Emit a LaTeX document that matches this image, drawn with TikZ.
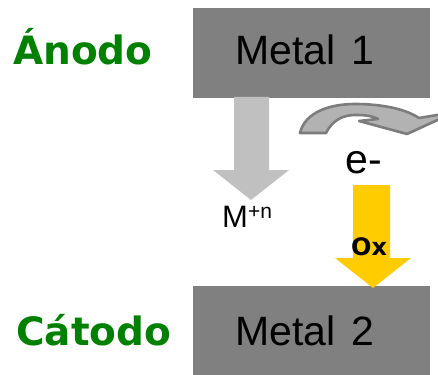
\documentclass[tikz,border=0pt]{standalone}
\usepackage{fontspec}
\newfontfamily\arialf{Liberation Sans}
\newfontfamily\verdf{DejaVu Sans}
\definecolor{boxgray}{HTML}{808080}
\definecolor{lightarrow}{HTML}{C0C0C0}
\definecolor{oxyellow}{HTML}{FFCC00}
\definecolor{electrode}{HTML}{008000}
\definecolor{curvefill}{HTML}{B2B2B2}
\definecolor{curveedge}{HTML}{7C7C7C}
\tikzset{
  metalbox/.style={fill=boxgray, draw=none, inner sep=0pt},
  metaltext/.style={anchor=base west, inner sep=0pt, font=\arialf\fontsize{41pt}{41pt}\selectfont, text=black},
  electrodetext/.style={anchor=base west, inner sep=0pt, font=\verdf\bfseries\fontsize{39pt}{39pt}\selectfont, text=electrode},
  plaintext/.style={anchor=base west, inner sep=0pt, text=black},
}
\begin{document}
\begin{tikzpicture}[x=1pt,y=-1pt]
\useasboundingbox (0,0) rectangle (438,374);
\begin{scope}
\clip (0,0) rectangle (438,374);
% metal boxes
\node[metalbox, minimum width=237pt, minimum height=90pt] (m1) at (311.5,53) {};
\node[metalbox, minimum width=237pt, minimum height=100pt] (m2) at (311.5,336) {};
% grey arrow (ion release)
\fill[lightarrow] (234,97) -- (269,97) -- (269,170) -- (289,170) -- (251,200) -- (213,170) -- (234,170) -- cycle;
% curved electron arrow
\filldraw[fill=curvefill, draw=curveedge, line width=2.6pt, line join=round]
  (300,133) .. controls (305,112) and (330,104) .. (355,104)
  .. controls (385,104) and (407,110) .. (419,118)
  -- (455,112) -- (407,134) -- (359,121) -- (378,119)
  .. controls (370,115) and (362,115) .. (355,115)
  .. controls (342,115) and (332,121) .. (326,133) -- cycle;
% yellow arrow (oxidant)
\fill[oxyellow] (353,185) -- (390,185) -- (390,258) -- (411,258) -- (373,288) -- (335,258) -- (353,258) -- cycle;
\end{scope}
% texts
\node[metaltext] (m1t) at (235,65) {Metal\hspace{5pt} 1};
\node[metaltext] (m2t) at (235,345) {Metal\hspace{5pt} 2};
\node[electrodetext] (anodo) at (13,65) {Ánodo};
\node[electrodetext] (catodo) at (16,345) {Cátodo};
\node[plaintext, font=\arialf\fontsize{41pt}{41pt}\selectfont] (elec) at (345,173) {e-};
\node[plaintext, font=\arialf\fontsize{31pt}{31pt}\selectfont] (ion) at (222,227) {M\raisebox{9pt}{\fontsize{21pt}{21pt}\selectfont +n}};
\node[plaintext, font=\verdf\bfseries\fontsize{24pt}{24pt}\selectfont] (ox) at (351,255) {Ox};
\end{tikzpicture}
\end{document}
